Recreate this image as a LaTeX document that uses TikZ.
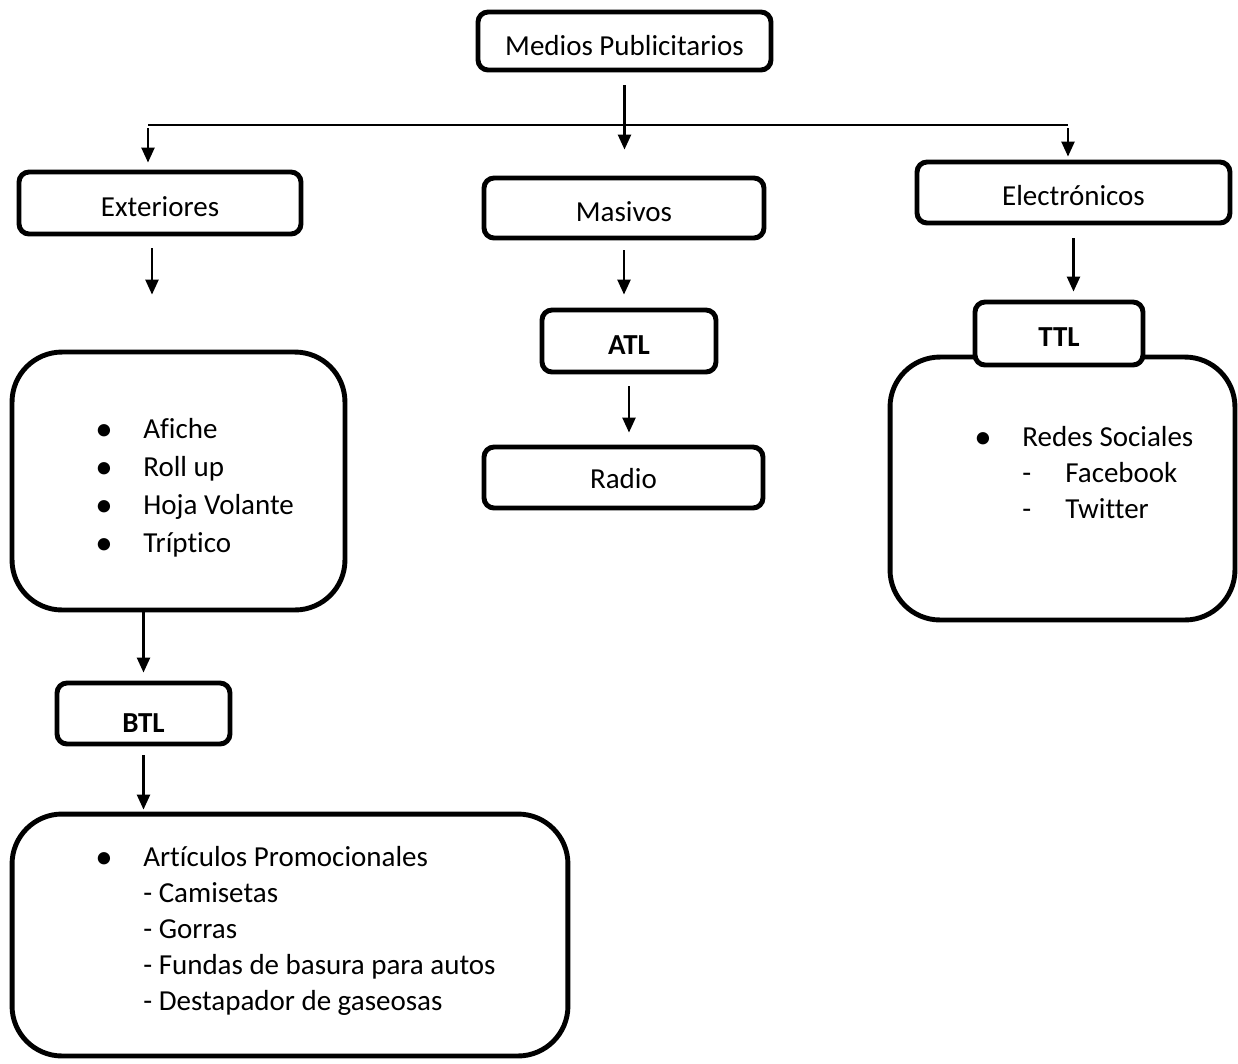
\documentclass[tikz,border=0pt]{standalone}
\usepackage{fontspec}
\setmainfont{Carlito}[Ligatures={NoCommon}]
\usepackage{tikz}
\usetikzlibrary{arrows.meta}

\newcommand{\blt}{\raisebox{-0.06em}{\scalebox{1.2}{\textbullet}}}
\newcommand{\itm}[1]{\makebox[0.96cm][l]{\blt}#1}
\newcommand{\sub}[1]{\hspace{0.96cm}\makebox[0.86cm][l]{-}#1}

\begin{document}
\begin{tikzpicture}[x=0.02cm, y=-0.02cm,
  box/.style={draw, line width=2.8pt, rounded corners=0.2cm, fill=white,
    inner sep=0pt, text height=0.53cm, text depth=0pt,
    font=\fontsize{16.5}{21}\selectfont},
  bigbox/.style={draw, line width=2.8pt, rounded corners=1cm, inner sep=0pt},
  items/.style={anchor=west, align=left, inner sep=0pt},
  arr/.style={-{Triangle[width=0.26cm,length=0.3cm]}, line width=1.4pt}]
\useasboundingbox (0,0) rectangle (1238,1063);

% top level
\node[box, minimum width=5.86cm, minimum height=1.16cm, text height=0.57cm] (medios) at (624.5,41) {Medios Publicitarios};
\coordinate (hl) at (148,125);
\coordinate (hr) at (1068,125);
\draw[line width=1.4pt] (hl) -- (hr);

% second level
\node[box, minimum width=5.64cm, minimum height=1.24cm] (exter) at (160,203) {Exteriores};
\node[box, minimum width=5.6cm, minimum height=1.2cm] (masivos) at (624,208) {Masivos};
\node[box, minimum width=6.26cm, minimum height=1.22cm] (electr) at (1073.5,192.5) {Electrónicos};

% left column
\node[bigbox, minimum width=6.66cm, minimum height=5.16cm] (extbox) at (178.5,481) {};
\node[items, font=\fontsize{16.5}{21.6}\selectfont] (extitems) at (95,488) {\itm{Afiche}\\ \itm{Roll up}\\ \itm{Hoja Volante}\\ \itm{Tríptico}};
\node[box, minimum width=3.46cm, minimum height=1.22cm, text height=0.75cm, font=\fontsize{16.5}{21}\selectfont\bfseries] (btl) at (143.5,713.5) {BTL};
\node[bigbox, minimum width=11.12cm, minimum height=4.84cm] (btlbox) at (290,935) {};
\node[items, font=\fontsize{16.5}{20.5}\selectfont] (btlitems) at (95,931) {\itm{Artículos Promocionales}\\ \hspace{0.96cm}- Camisetas\\ \hspace{0.96cm}- Gorras\\ \hspace{0.96cm}- Fundas de basura para autos\\ \hspace{0.96cm}- Destapador de gaseosas};

% middle column
\node[box, minimum width=3.48cm, minimum height=1.24cm, font=\fontsize{16.5}{21}\selectfont\bfseries] (atl) at (629,341) {ATL};
\node[box, minimum width=5.58cm, minimum height=1.22cm, text height=0.45cm] (radio) at (623.5,477.5) {Radio};

% right column
\node[bigbox, minimum width=6.9cm, minimum height=5.26cm] (ttlbox) at (1062.5,488.5) {};
\node[box, minimum width=3.36cm, minimum height=1.26cm, font=\fontsize{16.5}{21}\selectfont\bfseries] (ttl) at (1059,333.5) {TTL};
\node[items, font=\fontsize{16.5}{20.5}\selectfont] (ttlitems) at (974,473) {\itm{Redes Sociales}\\ \sub{Facebook}\\ \sub{Twitter}};

% arrows
\draw[arr, shorten <=0.26cm, shorten >=0.52cm] (medios.south) -- (medios.south |- masivos.north);
\draw[arr, shorten <=0.06cm, shorten >=0.14cm] (hl) -- (hl |- exter.north);
\draw[arr, shorten <=0.06cm, shorten >=0.06cm] (hr) -- (hr |- electr.north);
\draw[arr, shorten <=0.24cm, shorten >=1.1cm] ([xshift=-0.16cm]exter.south) -- ([xshift=-0.16cm]exter.south |- extbox.north);
\draw[arr, shorten <=0.2cm, shorten >=0.26cm] (masivos.south) -- (masivos.south |- atl.north);
\draw[arr, shorten <=0.26cm, shorten >=0.16cm] (electr.south) -- (electr.south |- ttl.north);
\draw[arr, shorten <=0.24cm, shorten >=0.24cm] (atl.south) -- (atl.south |- radio.north);
\draw[arr, shorten >=0.16cm] (btl.north |- extbox.south) -- (btl.north);
\draw[arr, shorten <=0.18cm, shorten >=0.04cm] (btl.south) -- (btl.south |- btlbox.north);
\end{tikzpicture}
\end{document}
